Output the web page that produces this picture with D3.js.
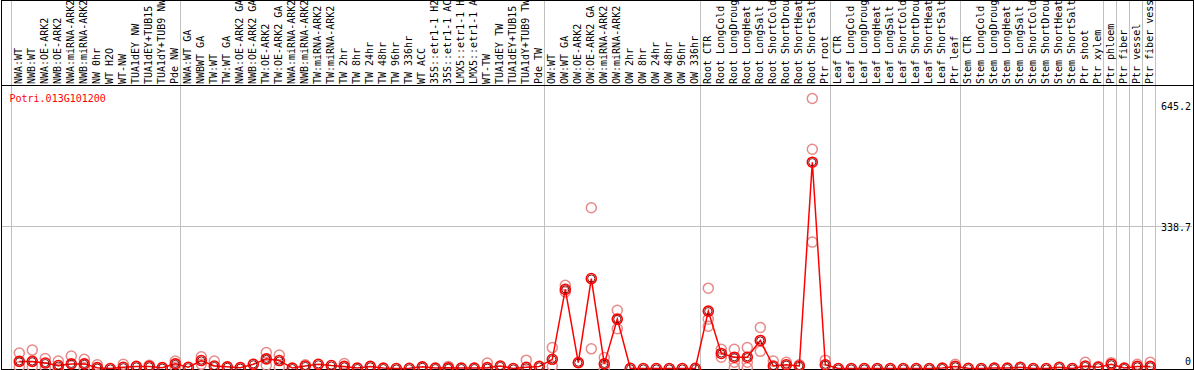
<!DOCTYPE html>
<html>
<head>
<meta charset="utf-8">
<script src="https://cdn.jsdelivr.net/npm/d3@7"></script>
<style>
    body { margin: 0; background: #fff; }
    svg { display: block; }
    text { font-family: "DejaVu Sans Mono", monospace; font-size: 10px; }
</style>
</head>
<body>
<div id="chart"></div>
<script>
const CHART = {
    WIDTH: 1194,
    HEIGHT: 370,
    FIRST_CENTER: 19.3,
    COL_STEP: 13,
    HEADER_Y: 85.5,
    BASELINE_Y: 368.5,
    TOP_Y: 98.5,
};

const geneName = 'Potri.013G101200';

const sampleLabels = [
    'NWA:WT', 'NWB:WT', 'NWA:OE-ARK2', 'NWB:OE-ARK2', 'NWA:miRNA-ARK2', 'NWB:miRNA-ARK2',
    'NW 0hr', 'WT H2O', 'WT-NW', 'TUA1dEY NW', 'TUA1dEY+TUB15 NW', 'TUA1dY+TUB9 NW', 'Pde NW',
    'NWA:WT GA', 'NWBWT GA', 'TW:WT', 'TW:WT GA', 'NWA:OE-ARK2 GA', 'NWB:OE-ARK2 GA',
    'TW:OE-ARK2', 'TW:OE-ARK2 GA', 'NWA:miRNA-ARK2 GA', 'NWB:miRNA-ARK2 GA', 'TW:miRNA-ARK2',
    'TW:miRNA-ARK2 GA', 'TW 2hr', 'TW 8hr', 'TW 24hr', 'TW 48hr', 'TW 96hr', 'TW 336hr', 'WT ACC',
    '35S::etr1-1 H2O', '35S::etr1-1 ACC', 'LMX5::etr1-1 H2O', 'LMX5::etr1-1 ACC', 'WT-TW',
    'TUA1dEY TW', 'TUA1dEY+TUB15 TW', 'TUA1dY+TUB9 TW', 'Pde TW',
    'OW:WT', 'OW:WT GA', 'OW:OE-ARK2', 'OW:OE-ARK2 GA', 'OW:miRNA-ARK2', 'OW:miRNA-ARK2 GA',
    'OW 2hr', 'OW 8hr', 'OW 24hr', 'OW 48hr', 'OW 96hr', 'OW 336hr',
    'Root CTR', 'Root LongCold', 'Root LongDrought', 'Root LongHeat', 'Root LongSalt',
    'Root ShortCold', 'Root ShortDrought', 'Root ShortHeat', 'Root ShortSalt', 'Ptr root',
    'Leaf CTR', 'Leaf LongCold', 'Leaf LongDrought', 'Leaf LongHeat', 'Leaf LongSalt',
    'Leaf ShortCold', 'Leaf ShortDrought', 'Leaf ShortHeat', 'Leaf ShortSalt', 'Ptr leaf',
    'Stem CTR', 'Stem LongCold', 'Stem LongDrought', 'Stem LongHeat', 'Stem LongSalt',
    'Stem ShortCold', 'Stem ShortDrought', 'Stem ShortHeat', 'Stem ShortSalt', 'Ptr shoot',
    'Ptr xylem', 'Ptr phloem', 'Ptr fiber', 'Ptr vessel', 'Ptr fiber vessel',
];

// index of first sample in each group (a separator is drawn before it)
const groupStarts = [0, 13, 41, 53, 63, 73, 84, 85, 86, 87];

const meanValues = [
    17, 17, 13, 7, 11, 11, 2, 0, 3, 5, 5, 2, 11,
    3, 19, 6, 4, 2, 10, 23, 19, 1, 6, 10, 7, 5, 1, 5, 1, 0, 0.5, 4, 1, 1.5, 1, 1, 2, 6, 0, 3, 5,
    22, 189, 14, 215, 11, 118, 0.5, 0, 0, 0, 0, 0.5,
    137, 36, 27, 27, 67, 6, 9, 6, 493, 9,
    0, 0, 0, 0, 0, 0, 0, 0, 1, 5,
    0.5, 0, 1, 1, 3, 0, 0, 3, 0, 6, 3,
    10, 1, 5, 5,
];

const replicateValues = [
    [37, 4], [44, 4], [24, 2], [18, 0], [30], [22, 2], [9], [], [10], [], [8], [], [18, 3],
    [], [28, 10], [18], [], [], [], [38, 8], [32, 3], [], [9], [], [], [12], [], [], [], [], [],
    [], [], [5], [], [], [13], [], [], [20], [],
    [50, 6], [199, 183], [], [384, 47], [26, 0], [139, 95], [], [], [], [], [], [],
    [192, 118, 101], [46, 27], [46, 15, 2], [50, 15, 2], [98, 41], [18], [15], [9], [645.2, 524, 302], [20],
    [], [], [], [], [], [], [], [], [], [10],
    [], [], [], [], [], [], [], [], [], [15], [5],
    [14], [], [10], [15],
];

const yTicks = [0, 338.7, 645.2];

const crisp = (v) => Math.round(v - 0.5) + 0.5;

function drawChart(domNode) {
    const x = d3.scaleBand()
        .domain(d3.range(sampleLabels.length))
        .range([
            CHART.FIRST_CENTER - CHART.COL_STEP / 2,
            CHART.FIRST_CENTER - CHART.COL_STEP / 2 + CHART.COL_STEP * sampleLabels.length,
        ]);
    const cx = (i) => x(i) + x.bandwidth() / 2;

    const y = d3.scaleLinear()
        .domain([0, d3.max(yTicks)])
        .range([CHART.BASELINE_Y, CHART.TOP_Y]);

    const svg = d3.select(domNode)
        .append('svg')
        .attr('width', CHART.WIDTH)
        .attr('height', CHART.HEIGHT);

    svg.append('rect')
        .attr('width', CHART.WIDTH)
        .attr('height', CHART.HEIGHT)
        .attr('fill', '#fff');

    // horizontal gridline at the middle tick
    svg.append('g')
        .selectAll('line')
        .data(yTicks.filter((t) => t > 0 && t < d3.max(yTicks)))
        .join('line')
        .attr('x1', 1)
        .attr('x2', CHART.WIDTH - 2)
        .attr('y1', (d) => crisp(y(d)))
        .attr('y2', (d) => crisp(y(d)))
        .attr('stroke', '#c0c0c0')
        .attr('shape-rendering', 'crispEdges');

    // group separators
    const sepX = groupStarts.map((i) => x(i) - 1.5).concat([x.range()[1] - 1.5]);
    svg.append('g')
        .selectAll('line')
        .data(sepX)
        .join('line')
        .attr('x1', (d) => crisp(d))
        .attr('x2', (d) => crisp(d))
        .attr('y1', 0)
        .attr('y2', CHART.HEIGHT)
        .attr('stroke', '#c0c0c0')
        .attr('shape-rendering', 'crispEdges');

    // sample labels, rotated
    svg.append('g')
        .selectAll('text')
        .data(sampleLabels)
        .join('text')
        .attr('transform', (d, i) => `translate(${cx(i) + 2.4},${CHART.HEADER_Y - 1.5}) rotate(-90)`)
        .attr('fill', '#000')
        .text((d) => d);

    // frame + header divider
    svg.append('rect')
        .attr('x', 1.5)
        .attr('y', 0.5)
        .attr('width', CHART.WIDTH - 2.5)
        .attr('height', CHART.BASELINE_Y)
        .attr('fill', 'none')
        .attr('stroke', '#000')
        .attr('shape-rendering', 'crispEdges');

    svg.append('line')
        .attr('x1', 1)
        .attr('x2', CHART.WIDTH - 1)
        .attr('y1', CHART.HEADER_Y)
        .attr('y2', CHART.HEADER_Y)
        .attr('stroke', '#000')
        .attr('shape-rendering', 'crispEdges');

    // replicate points
    const reps = replicateValues.flatMap((vals, i) => vals.map((v) => ({ i, v })));
    svg.append('g')
        .selectAll('circle')
        .data(reps)
        .join('circle')
        .attr('cx', (d) => cx(d.i))
        .attr('cy', (d) => y(d.v))
        .attr('r', 5)
        .attr('fill', 'none')
        .attr('stroke', '#e88a8a')
        .attr('stroke-width', 1.5);

    // mean line
    const line = d3.line()
        .x((d, i) => cx(i))
        .y((d) => y(d));

    svg.append('path')
        .datum(meanValues)
        .attr('d', line)
        .attr('fill', 'none')
        .attr('stroke', '#f00')
        .attr('stroke-width', 1.5);

    const means = svg.append('g')
        .selectAll('g')
        .data(meanValues)
        .join('g')
        .attr('transform', (d, i) => `translate(${cx(i)},${y(d)})`);

    means.append('circle')
        .attr('r', 5)
        .attr('fill', 'none')
        .attr('stroke', '#f00')
        .attr('stroke-width', 1.6);

    means.append('circle')
        .attr('r', 3.6)
        .attr('fill', 'none')
        .attr('stroke', '#600')
        .attr('stroke-width', 0.9);

    // gene name
    svg.append('text')
        .attr('x', 9.5)
        .attr('y', 101.5)
        .attr('fill', '#f00')
        .text(geneName);

    // value labels on the right
    svg.append('g')
        .selectAll('text')
        .data(yTicks)
        .join('text')
        .attr('x', CHART.WIDTH - 3)
        .attr('y', (d) => Math.min(Math.max(y(d) + 4, 110), 365))
        .attr('text-anchor', 'end')
        .attr('fill', '#000')
        .text((d) => d);
}

drawChart(document.getElementById('chart'));
</script>
</body>
</html>
